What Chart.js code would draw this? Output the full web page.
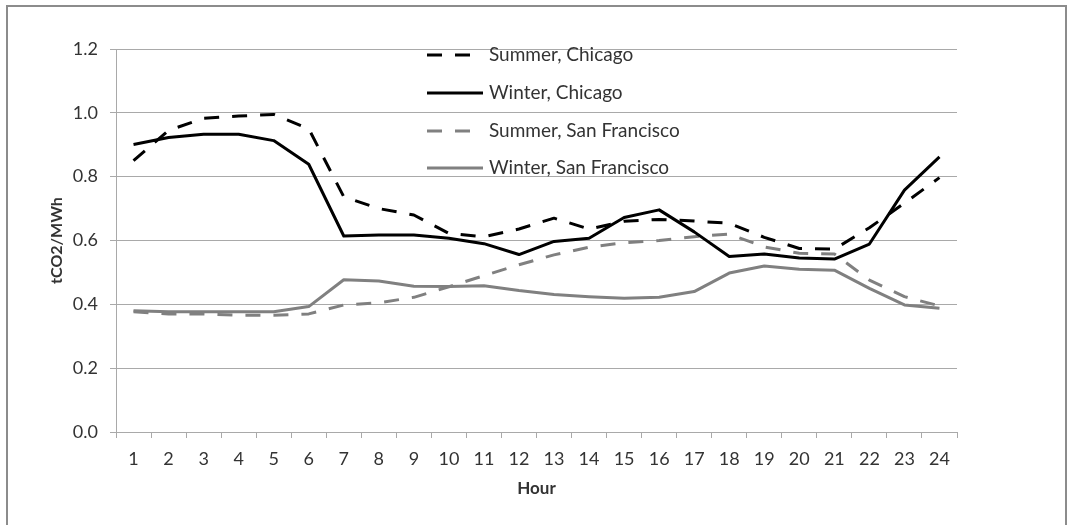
<!DOCTYPE html>
<html>
<head>
<meta charset="utf-8">
<script src="https://cdn.jsdelivr.net/npm/chart.js@4.4.0/dist/chart.umd.min.js"></script>
<style>
  html, body { margin: 0; padding: 0; background: #fff; }
  #wrap { width: 1072px; height: 525px; }
</style>
</head>
<body>
<div id="wrap"><canvas id="chart" width="1072" height="525"></canvas></div>
<script>
// hours of the day
const hours = ['1', '2', '3', '4', '5', '6', '7', '8', '9', '10', '11', '12',
  '13', '14', '15', '16', '17', '18', '19', '20', '21', '22', '23', '24'];

// tCO2/MWh
const summerChicago = [0.85, 0.945, 0.983, 0.99, 0.995, 0.95, 0.737, 0.70, 0.68, 0.622, 0.612, 0.636,
  0.67, 0.636, 0.66, 0.666, 0.661, 0.654, 0.61, 0.575, 0.573, 0.64, 0.717, 0.797];
const winterChicago = [0.901, 0.923, 0.933, 0.933, 0.913, 0.839, 0.614, 0.617, 0.617, 0.607, 0.59, 0.556,
  0.597, 0.607, 0.672, 0.696, 0.627, 0.55, 0.558, 0.545, 0.542, 0.589, 0.758, 0.862];
const summerSF = [0.377, 0.37, 0.37, 0.366, 0.366, 0.37, 0.398, 0.405, 0.422, 0.455, 0.49, 0.524,
  0.555, 0.579, 0.593, 0.6, 0.612, 0.62, 0.58, 0.56, 0.558, 0.476, 0.424, 0.395];
const winterSF = [0.38, 0.377, 0.377, 0.377, 0.377, 0.393, 0.477, 0.473, 0.457, 0.456, 0.458, 0.443,
  0.431, 0.424, 0.419, 0.422, 0.44, 0.498, 0.52, 0.51, 0.507, 0.45, 0.398, 0.388];

const seriesLabels = ['Summer, Chicago', 'Winter, Chicago', 'Summer, San Francisco', 'Winter, San Francisco'];

const FONT = 'Lato, "Open Sans", sans-serif';
const TEXT = '#333';
const GRID = '#a9a9a9';
const DASH = [15, 13];

const line = (label, data, color, dashed) => ({
  label,
  data,
  borderColor: color,
  backgroundColor: color,
  borderWidth: 3,
  borderDash: dashed ? DASH : [],
  borderCapStyle: 'butt',
  borderJoinStyle: 'round',
  pointRadius: 0,
  tension: 0,
  fill: false
});

// legend sits inside the plot, like the Excel original
const insideLegend = {
  id: 'insideLegend',
  afterDraw(chart) {
    const { ctx } = chart;
    const x = 427, rows = [55, 93, 131, 168];
    ctx.save();
    chart.data.datasets.forEach((ds, i) => {
      const y = rows[i];
      ctx.beginPath();
      ctx.lineWidth = ds.borderWidth;
      ctx.strokeStyle = ds.borderColor;
      ctx.setLineDash(ds.borderDash);
      ctx.moveTo(x, y);
      ctx.lineTo(ds.borderDash.length ? x + 43 : x + 56, y);
      ctx.stroke();
      ctx.setLineDash([]);
      ctx.fillStyle = TEXT;
      ctx.font = '19px ' + FONT;
      ctx.textBaseline = 'middle';
      ctx.fillText(ds.label, x + 62, y);
    });
    // outer frame
    ctx.strokeStyle = '#8c8c8c';
    ctx.lineWidth = 2;
    ctx.strokeRect(7, 6, 1059, 540);
    ctx.restore();
  }
};

new Chart(document.getElementById('chart'), {
  type: 'line',
  data: {
    labels: hours,
    datasets: [
      line(seriesLabels[0], summerChicago, '#000', true),
      line(seriesLabels[1], winterChicago, '#000', false),
      line(seriesLabels[2], summerSF, '#808080', true),
      line(seriesLabels[3], winterSF, '#808080', false)
    ]
  },
  options: {
    responsive: false,
    animation: false,
    layout: { padding: { left: 40, right: 115, top: 49, bottom: 0 } },
    plugins: { legend: { display: false }, tooltip: { enabled: false } },
    scales: {
      x: {
        offset: true,
        grid: { drawOnChartArea: false, drawTicks: true, tickLength: 6, color: GRID, offset: true },
        border: { color: GRID },
        ticks: { padding: 10, color: TEXT, font: { family: FONT, size: 18 }, maxRotation: 0, autoSkip: false },
        title: { display: true, text: 'Hour', color: TEXT, font: { family: FONT, size: 17, weight: 'bold' }, padding: { top: 0, bottom: 26 } },
        afterFit(s) { s.height = 93; }
      },
      y: {
        min: 0,
        max: 1.2,
        grid: { color: GRID, tickLength: 6 },
        border: { color: GRID },
        ticks: { stepSize: 0.2, padding: 12, color: TEXT, font: { family: FONT, size: 18 }, callback: v => v.toFixed(1) },
        title: { display: true, text: 'tCO2/MWh', color: TEXT, font: { family: FONT, size: 16, weight: 'bold' }, padding: { top: 7, bottom: 0 } },
        afterFit(s) { s.width = 76; }
      }
    }
  },
  plugins: [insideLegend]
});
</script>
</body>
</html>
